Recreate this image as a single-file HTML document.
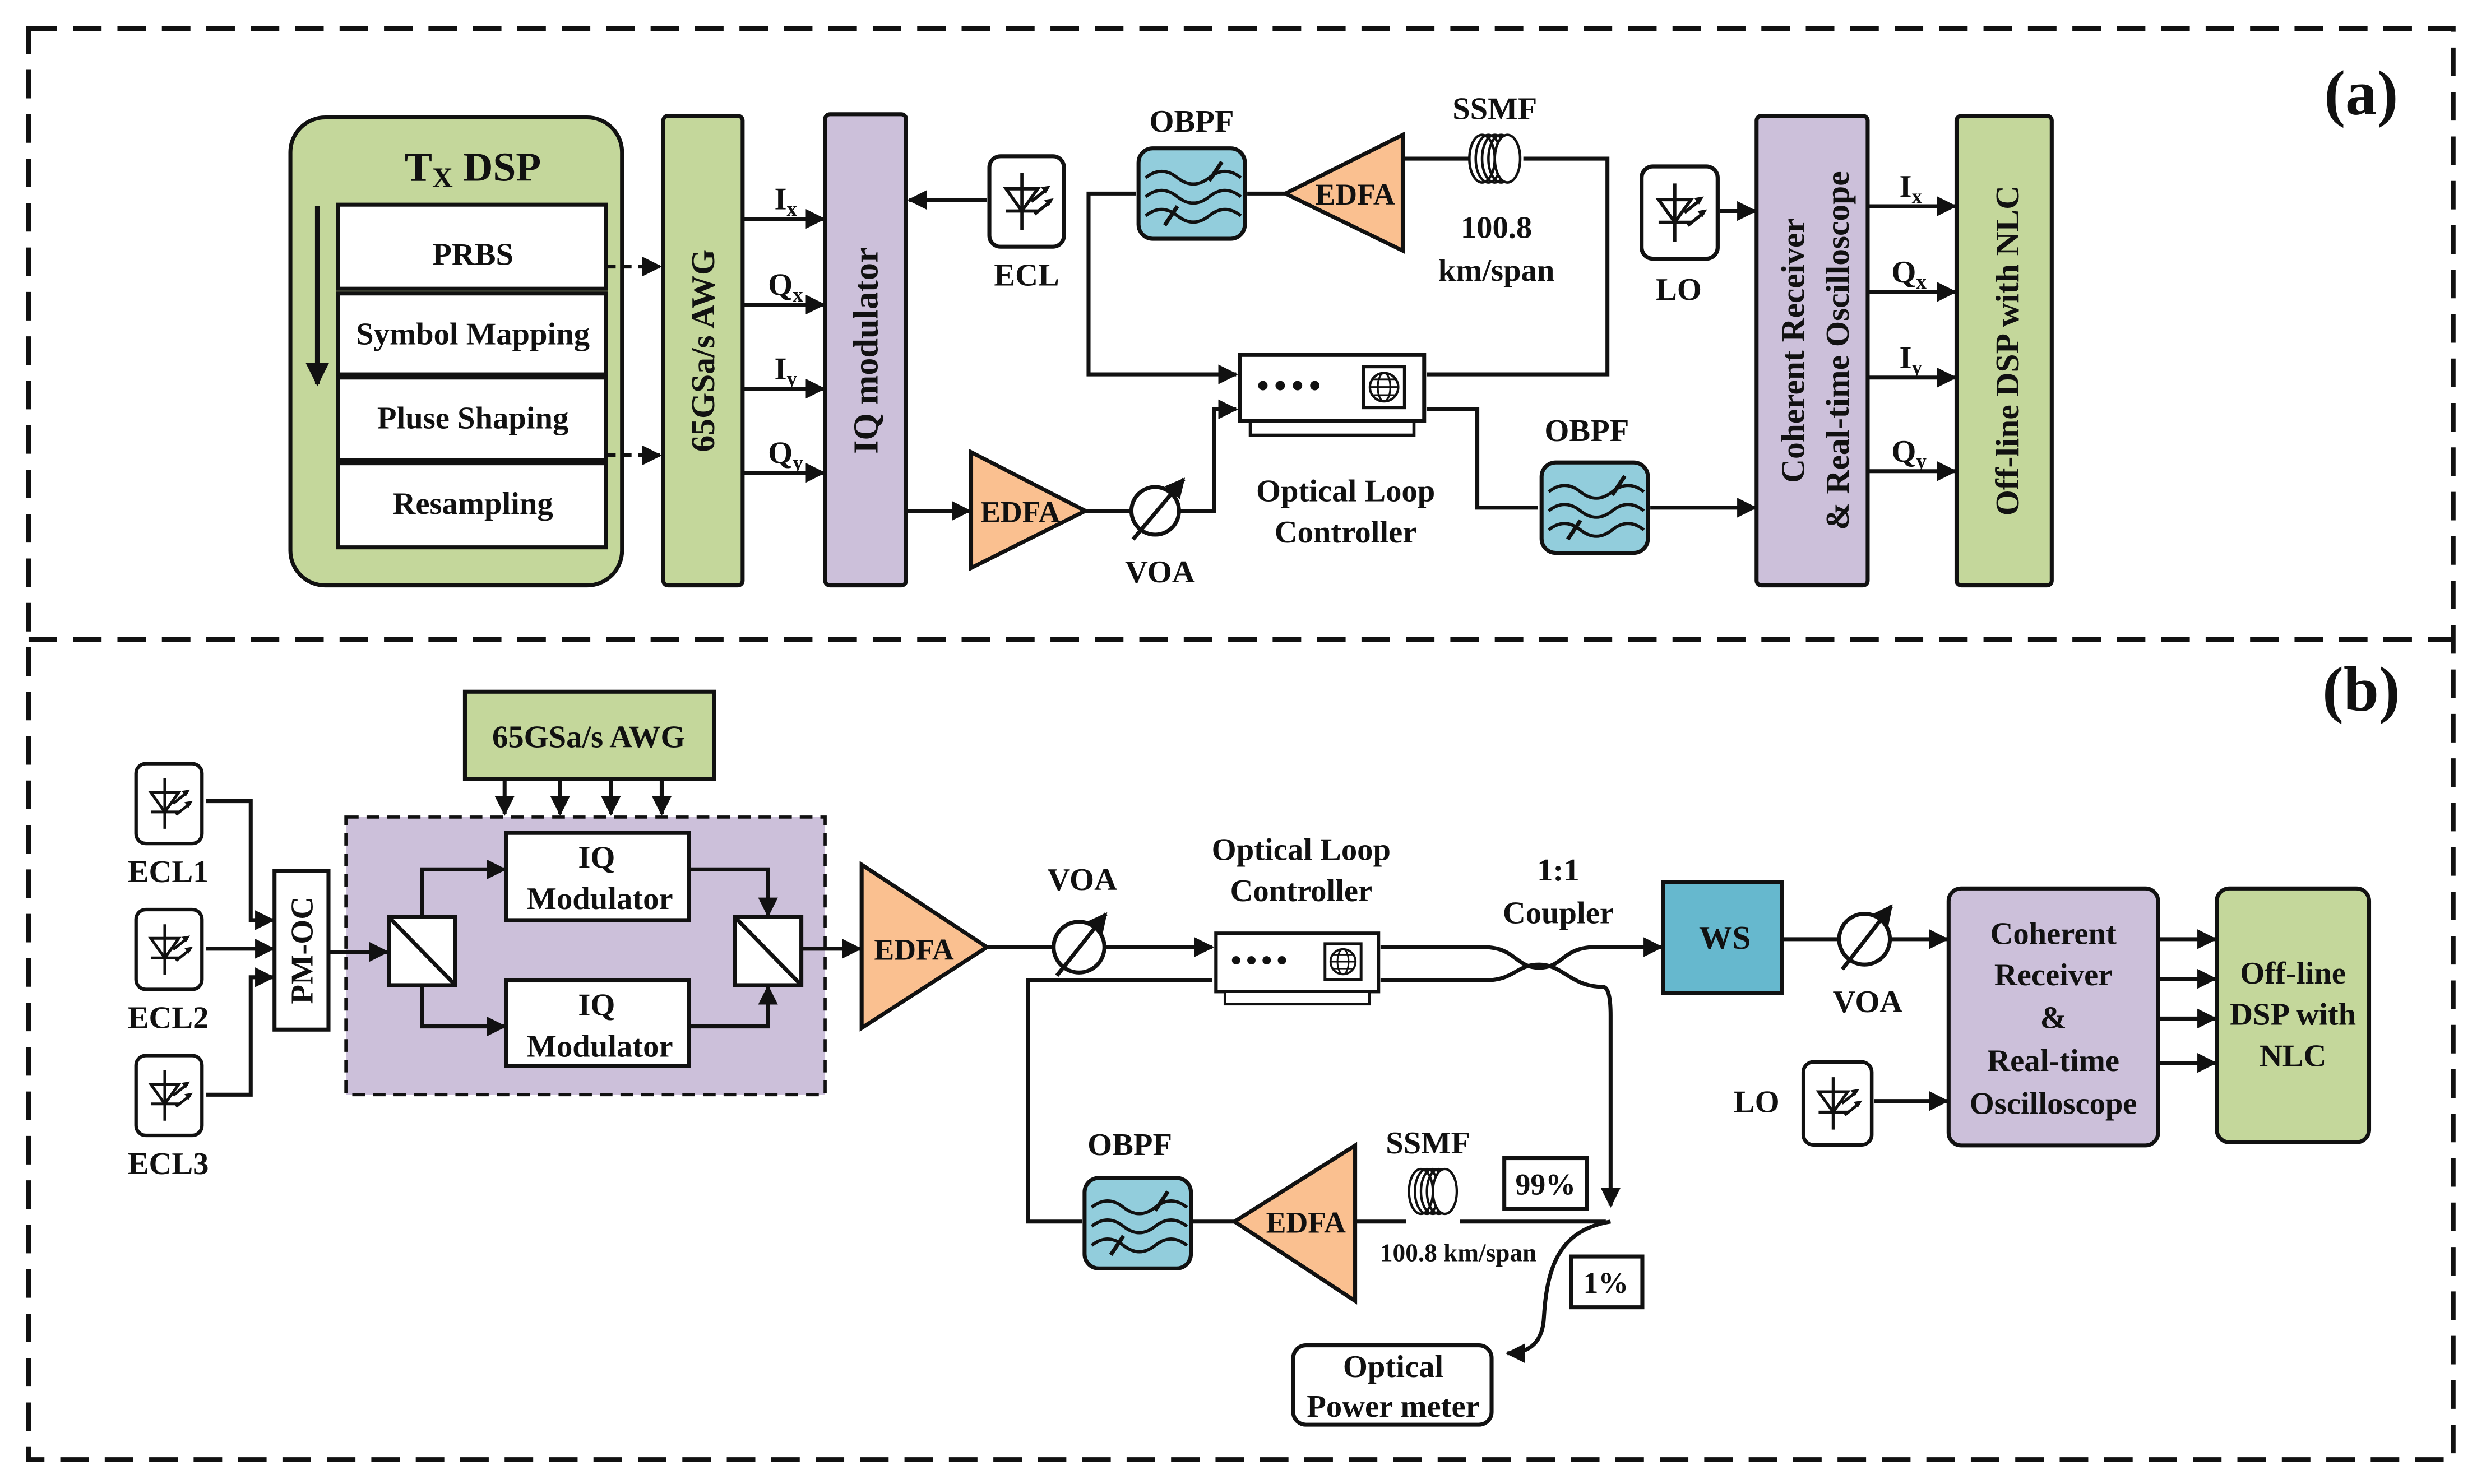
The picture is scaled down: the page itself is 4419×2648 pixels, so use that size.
<!DOCTYPE html>
<html><head><meta charset="utf-8"><style>
html,body{margin:0;padding:0;background:#fff}
svg{display:block}
text{font-family:"Liberation Serif",serif;font-weight:bold;fill:#111}
</style></head><body>
<svg width="4419" height="2648" viewBox="0 0 1561 935.4" preserveAspectRatio="none" xmlns="http://www.w3.org/2000/svg">
<defs>
<marker id="ar" viewBox="0 0 10 10" refX="9" refY="5" markerWidth="5" markerHeight="5" orient="auto"><path d="M0,0 L10,5 L0,10 z" fill="#111"/></marker>
<symbol id="laser" viewBox="0 0 50 60">
<rect x="1.5" y="1.5" width="47" height="57" rx="7" fill="#fff" stroke="#111" stroke-width="2.5"/>
<line x1="22" y1="12" x2="22" y2="48" stroke="#111" stroke-width="2"/>
<path d="M12,22 L32,22 L22,36 z" fill="none" stroke="#111" stroke-width="2"/>
<line x1="12" y1="36" x2="32" y2="36" stroke="#111" stroke-width="2"/>
<line x1="28" y1="30" x2="38" y2="22" stroke="#111" stroke-width="2"/>
<path d="M40,20 l-6,1 l3,4 z" fill="#111"/>
<line x1="30" y1="38" x2="40" y2="30" stroke="#111" stroke-width="2"/>
<path d="M42,28 l-6,1 l3,4 z" fill="#111"/>
</symbol>
<symbol id="obpf" viewBox="0 0 70 60">
<rect x="1.5" y="1.5" width="67" height="57" rx="9" fill="#92cddc" stroke="#111" stroke-width="2.5"/>
<path d="M6,20 q10,-8 20,0 t20,0 t20,0" fill="none" stroke="#111" stroke-width="2"/>
<path d="M6,32 q10,-8 20,0 t20,0 t20,0" fill="none" stroke="#111" stroke-width="2"/>
<path d="M6,44 q10,-8 20,0 t20,0 t20,0" fill="none" stroke="#111" stroke-width="2"/>
<line x1="18" y1="50" x2="26" y2="38" stroke="#111" stroke-width="2.5"/>
<line x1="46" y1="22" x2="54" y2="10" stroke="#111" stroke-width="2.5"/>
</symbol>
<symbol id="coil" viewBox="0 0 36 34">
<ellipse cx="10" cy="17" rx="8" ry="15" fill="none" stroke="#111" stroke-width="1.6"/>
<ellipse cx="14" cy="17" rx="8" ry="15" fill="none" stroke="#111" stroke-width="1.6"/>
<ellipse cx="18" cy="17" rx="8" ry="15" fill="none" stroke="#111" stroke-width="1.6"/>
<ellipse cx="22" cy="17" rx="8" ry="15" fill="none" stroke="#111" stroke-width="1.6"/>
<ellipse cx="26" cy="17" rx="8" ry="15" fill="#fff" stroke="#111" stroke-width="1.6"/>
</symbol>
<symbol id="olc" viewBox="0 0 120 55">
<rect x="1.5" y="1.5" width="117" height="42" fill="#fff" stroke="#111" stroke-width="2.5"/>
<rect x="8" y="43.5" width="104" height="9" fill="#fff" stroke="#111" stroke-width="2"/>
<circle cx="16" cy="21" r="3" fill="#111"/><circle cx="27" cy="21" r="3" fill="#111"/><circle cx="38" cy="21" r="3" fill="#111"/><circle cx="49" cy="21" r="3" fill="#111"/>
<rect x="80" y="9" width="26" height="26" fill="#fff" stroke="#111" stroke-width="2"/>
<circle cx="93" cy="22" r="9" fill="none" stroke="#111" stroke-width="1.5"/>
<ellipse cx="93" cy="22" rx="4" ry="9" fill="none" stroke="#111" stroke-width="1.2"/>
<line x1="84" y1="22" x2="102" y2="22" stroke="#111" stroke-width="1.2"/>
<line x1="85" y1="17" x2="101" y2="17" stroke="#111" stroke-width="1"/>
<line x1="85" y1="27" x2="101" y2="27" stroke="#111" stroke-width="1"/>
</symbol>
</defs>

<g fill="none" stroke="#111" stroke-width="3" stroke-dasharray="18,10">
<rect x="18" y="18" width="1528" height="902"/>
<line x1="18" y1="403" x2="1546" y2="403"/>
</g>

<text x="1488" y="72" font-size="40" text-anchor="middle">(a)</text>
<text x="1488" y="448" font-size="40" text-anchor="middle">(b)</text>

<!-- (a) -->
<g stroke="#111" stroke-width="2.5" fill="none">
<rect x="183" y="74" width="209" height="295" rx="22" fill="#c4d79b"/>
<rect x="213" y="129" width="169" height="53" fill="#fff"/>
<rect x="213" y="185" width="169" height="51" fill="#fff"/>
<rect x="213" y="238" width="169" height="52" fill="#fff"/>
<rect x="213" y="292" width="169" height="53" fill="#fff"/>
<rect x="418" y="73" width="50" height="296" rx="3" fill="#c4d79b"/>
<rect x="520" y="72" width="51" height="297" rx="3" fill="#ccc0da"/>
<rect x="1107" y="73" width="70" height="296" rx="3" fill="#ccc0da"/>
<rect x="1233" y="73" width="60" height="296" rx="3" fill="#c4d79b"/>
</g>
<line x1="200" y1="130" x2="200" y2="242" stroke="#111" stroke-width="3" marker-end="url(#ar)"/>
<text x="298" y="114" font-size="26" text-anchor="middle">T<tspan font-size="18" dy="4">X</tspan><tspan dy="-4"> DSP</tspan></text>
<g font-size="20" text-anchor="middle">
<text x="298" y="167">PRBS</text>
<text x="298" y="217">Symbol Mapping</text>
<text x="298" y="270">Pluse Shaping</text>
<text x="298" y="324">Resampling</text>
</g>
<g stroke="#111" stroke-width="2.5" fill="none">
<line x1="382" y1="168" x2="416" y2="168" stroke-dasharray="6,4" marker-end="url(#ar)"/>
<line x1="382" y1="287" x2="416" y2="287" stroke-dasharray="6,4" marker-end="url(#ar)"/>
<line x1="468" y1="138" x2="519" y2="138" marker-end="url(#ar)"/>
<line x1="468" y1="192" x2="519" y2="192" marker-end="url(#ar)"/>
<line x1="468" y1="245" x2="519" y2="245" marker-end="url(#ar)"/>
<line x1="468" y1="298" x2="519" y2="298" marker-end="url(#ar)"/>
<line x1="622" y1="126" x2="573" y2="126" marker-end="url(#ar)"/>
<line x1="810" y1="122" x2="786" y2="122"/>
<polyline points="716,122 686,122 686,236 779,236" marker-end="url(#ar)"/>
<polyline points="960,100 1013,100 1013,236 899,236"/>
<polyline points="899,258 931,258 931,320 969,320"/>
<line x1="1040" y1="320" x2="1106" y2="320" marker-end="url(#ar)"/>
<line x1="571" y1="322" x2="611" y2="322" marker-end="url(#ar)"/>
<line x1="684" y1="322" x2="713" y2="322"/>
<polyline points="743,322 765,322 765,258 779,258" marker-end="url(#ar)"/>
<line x1="1084" y1="133" x2="1106" y2="133" marker-end="url(#ar)"/>
<line x1="1177" y1="130" x2="1232" y2="130" marker-end="url(#ar)"/>
<line x1="1177" y1="184" x2="1232" y2="184" marker-end="url(#ar)"/>
<line x1="1177" y1="238" x2="1232" y2="238" marker-end="url(#ar)"/>
<line x1="1177" y1="297" x2="1232" y2="297" marker-end="url(#ar)"/>
<line x1="884" y1="100" x2="926" y2="100"/>
</g>
<g font-size="20">
<text x="488" y="132">I<tspan font-size="13" dy="4">x</tspan></text>
<text x="484" y="186">Q<tspan font-size="13" dy="4">x</tspan></text>
<text x="488" y="239">I<tspan font-size="13" dy="4">y</tspan></text>
<text x="484" y="292">Q<tspan font-size="13" dy="4">y</tspan></text>
<text x="1197" y="124">I<tspan font-size="13" dy="4">x</tspan></text>
<text x="1192" y="178">Q<tspan font-size="13" dy="4">x</tspan></text>
<text x="1197" y="232">I<tspan font-size="13" dy="4">y</tspan></text>
<text x="1192" y="291">Q<tspan font-size="13" dy="4">y</tspan></text>
</g>
<text transform="translate(450,221) rotate(-90)" font-size="21" text-anchor="middle">65GSa/s AWG</text>
<text transform="translate(553,221) rotate(-90)" font-size="22" text-anchor="middle">IQ modulator</text>
<text transform="translate(1137,221) rotate(-90)" font-size="21" text-anchor="middle">Coherent Receiver</text>
<text transform="translate(1165,221) rotate(-90)" font-size="21" text-anchor="middle">&amp; Real-time Oscilloscope</text>
<text transform="translate(1272,221) rotate(-90)" font-size="21" text-anchor="middle">Off-line DSP with NLC</text>

<use href="#laser" x="622" y="97" width="50" height="60"/>
<text x="647" y="180" font-size="20" text-anchor="middle">ECL</text>
<use href="#obpf" x="716" y="92" width="70" height="60"/>
<text x="751" y="83" font-size="20" text-anchor="middle">OBPF</text>
<polygon points="810,122 884,85 884,158" fill="#fac090" stroke="#111" stroke-width="2.5"/>
<text x="854" y="129" font-size="19" text-anchor="middle">EDFA</text>
<use href="#coil" x="924" y="83" width="36" height="34"/>
<text x="942" y="75" font-size="20" text-anchor="middle">SSMF</text>
<text x="943" y="150" font-size="20" text-anchor="middle">100.8</text>
<text x="943" y="177" font-size="20" text-anchor="middle">km/span</text>
<use href="#olc" x="780" y="222" width="119" height="55"/>
<text x="848" y="316" font-size="20" text-anchor="middle">Optical Loop</text>
<text x="848" y="342" font-size="20" text-anchor="middle">Controller</text>
<use href="#obpf" x="970" y="290" width="70" height="60"/>
<text x="1000" y="278" font-size="20" text-anchor="middle">OBPF</text>
<polygon points="684,322 612,285 612,358" fill="#fac090" stroke="#111" stroke-width="2.5"/>
<text x="643" y="329" font-size="19" text-anchor="middle">EDFA</text>
<circle cx="728" cy="322" r="15" fill="#fff" stroke="#111" stroke-width="2.5"/>
<line x1="714" y1="340" x2="746" y2="302" stroke="#111" stroke-width="2.5" marker-end="url(#ar)"/>
<text x="731" y="367" font-size="20" text-anchor="middle">VOA</text>
<use href="#laser" x="1033" y="103" width="51" height="62"/>
<text x="1058" y="189" font-size="20" text-anchor="middle">LO</text>

<!-- (b) -->
<rect x="293" y="436" width="157" height="55" fill="#c4d79b" stroke="#111" stroke-width="2.5"/>
<text x="371" y="471" font-size="20" text-anchor="middle">65GSa/s AWG</text>
<g stroke="#111" stroke-width="2.5">
<line x1="318" y1="491" x2="318" y2="513" marker-end="url(#ar)"/>
<line x1="353" y1="491" x2="353" y2="513" marker-end="url(#ar)"/>
<line x1="385" y1="491" x2="385" y2="513" marker-end="url(#ar)"/>
<line x1="417" y1="491" x2="417" y2="513" marker-end="url(#ar)"/>
</g>
<rect x="218" y="515" width="302" height="175" fill="#ccc0da" stroke="#111" stroke-width="2" stroke-dasharray="8,5"/>
<rect x="319" y="525" width="115" height="55" fill="#fff" stroke="#111" stroke-width="2.5"/>
<rect x="319" y="618" width="115" height="54" fill="#fff" stroke="#111" stroke-width="2.5"/>
<g font-size="20" text-anchor="middle">
<text x="376" y="547">IQ</text><text x="378" y="573">Modulator</text>
<text x="376" y="640">IQ</text><text x="378" y="666">Modulator</text>
</g>
<g stroke="#111" stroke-width="2.5" fill="#fff">
<rect x="245" y="578" width="42" height="43"/><line x1="245" y1="578" x2="287" y2="621"/>
<rect x="463" y="578" width="42" height="43"/><line x1="463" y1="578" x2="505" y2="621"/>
<rect x="173" y="549" width="34" height="100"/>
</g>
<text transform="translate(197,599) rotate(-90)" font-size="20" text-anchor="middle">PM-OC</text>
<use href="#laser" x="83" y="480" width="47" height="53"/>
<use href="#laser" x="83" y="572" width="47" height="53"/>
<use href="#laser" x="83" y="664" width="47" height="53"/>
<g font-size="20" text-anchor="middle">
<text x="106" y="556">ECL1</text><text x="106" y="648">ECL2</text><text x="106" y="740">ECL3</text>
</g>
<g stroke="#111" stroke-width="2.5" fill="none">
<polyline points="130,505 158,505 158,580 172,580" marker-end="url(#ar)"/>
<line x1="130" y1="598" x2="172" y2="598" marker-end="url(#ar)"/>
<polyline points="130,690 158,690 158,616 172,616" marker-end="url(#ar)"/>
<line x1="207" y1="600" x2="244" y2="600" marker-end="url(#ar)"/>
<polyline points="266,578 266,548 318,548" marker-end="url(#ar)"/>
<polyline points="266,621 266,647 318,647" marker-end="url(#ar)"/>
<polyline points="434,548 484,548 484,577" marker-end="url(#ar)"/>
<polyline points="434,647 484,647 484,622" marker-end="url(#ar)"/>
<line x1="505" y1="598" x2="542" y2="598" marker-end="url(#ar)"/>
<line x1="622" y1="597" x2="664" y2="597"/>
<line x1="696" y1="597" x2="764" y2="597" marker-end="url(#ar)"/>
<polyline points="764,618 648,618 648,770 682,770"/>
<line x1="752" y1="770" x2="778" y2="770"/>
<line x1="854" y1="770" x2="886" y2="770"/>
<line x1="920" y1="770" x2="1012" y2="770"/>
<path d="M870,597 L935,597 C955,597 955,610 970,610 C985,610 985,597 1005,597 L1047,597" marker-end="url(#ar)"/>
<path d="M870,618 L935,618 C955,618 955,608 970,608 C985,608 990,622 1010,622 Q1015,622 1015,640 L1015,760" marker-end="url(#ar)"/>
<path d="M1015,770 C985,775 975,795 973,830 Q972,853 950,853" marker-end="url(#ar)"/>
<line x1="1123" y1="592" x2="1159" y2="592"/>
<line x1="1191" y1="592" x2="1227" y2="592" marker-end="url(#ar)"/>
<line x1="1181" y1="694" x2="1227" y2="694" marker-end="url(#ar)"/>
<line x1="1360" y1="592" x2="1396" y2="592" marker-end="url(#ar)"/>
<line x1="1360" y1="617" x2="1396" y2="617" marker-end="url(#ar)"/>
<line x1="1360" y1="642" x2="1396" y2="642" marker-end="url(#ar)"/>
<line x1="1360" y1="670" x2="1396" y2="670" marker-end="url(#ar)"/>
</g>
<polygon points="622,597 543,545 543,648" fill="#fac090" stroke="#111" stroke-width="2.5"/>
<text x="576" y="605" font-size="19" text-anchor="middle">EDFA</text>
<circle cx="680" cy="597" r="16" fill="#fff" stroke="#111" stroke-width="2.5"/>
<line x1="666" y1="615" x2="697" y2="576" stroke="#111" stroke-width="2.5" marker-end="url(#ar)"/>
<text x="682" y="561" font-size="20" text-anchor="middle">VOA</text>
<use href="#olc" x="765" y="586" width="105" height="50"/>
<text x="820" y="542" font-size="20" text-anchor="middle">Optical Loop</text>
<text x="820" y="568" font-size="20" text-anchor="middle">Controller</text>
<text x="982" y="555" font-size="20" text-anchor="middle">1:1</text>
<text x="982" y="582" font-size="20" text-anchor="middle">Coupler</text>
<use href="#obpf" x="682" y="741" width="70" height="60"/>
<text x="712" y="728" font-size="20" text-anchor="middle">OBPF</text>
<polygon points="778,770 854,722 854,820" fill="#fac090" stroke="#111" stroke-width="2.5"/>
<text x="823" y="777" font-size="19" text-anchor="middle">EDFA</text>
<use href="#coil" x="885" y="735" width="36" height="32"/>
<text x="900" y="727" font-size="20" text-anchor="middle">SSMF</text>
<text x="919" y="795" font-size="16" text-anchor="middle">100.8 km/span</text>
<rect x="948" y="730" width="52" height="32" fill="#fff" stroke="#111" stroke-width="2.5"/>
<text x="974" y="753" font-size="19" text-anchor="middle">99%</text>
<rect x="990" y="792" width="45" height="32" fill="#fff" stroke="#111" stroke-width="2.5"/>
<text x="1012" y="815" font-size="19" text-anchor="middle">1%</text>
<rect x="815" y="848" width="125" height="50" rx="8" fill="#fff" stroke="#111" stroke-width="2.5"/>
<text x="878" y="868" font-size="20" text-anchor="middle">Optical</text>
<text x="878" y="893" font-size="20" text-anchor="middle">Power meter</text>
<rect x="1048" y="556" width="75" height="70" fill="#4bacc6" fill-opacity="0.85" stroke="#111" stroke-width="2.5"/>
<text x="1087" y="598" font-size="21" text-anchor="middle">WS</text>
<circle cx="1175" cy="592" r="16" fill="#fff" stroke="#111" stroke-width="2.5"/>
<line x1="1161" y1="611" x2="1192" y2="571" stroke="#111" stroke-width="2.5" marker-end="url(#ar)"/>
<text x="1177" y="638" font-size="20" text-anchor="middle">VOA</text>
<rect x="1228" y="560" width="132" height="162" rx="8" fill="#ccc0da" stroke="#111" stroke-width="2.5"/>
<g font-size="20" text-anchor="middle">
<text x="1294" y="595">Coherent</text><text x="1294" y="621">Receiver</text><text x="1294" y="648">&amp;</text><text x="1294" y="675">Real-time</text><text x="1294" y="702">Oscilloscope</text>
</g>
<text x="1107" y="701" font-size="20" text-anchor="middle">LO</text>
<use href="#laser" x="1135" y="668" width="46" height="55"/>
<rect x="1397" y="560" width="96" height="160" rx="8" fill="#c4d79b" stroke="#111" stroke-width="2.5"/>
<g font-size="20" text-anchor="middle">
<text x="1445" y="620">Off-line</text><text x="1445" y="646">DSP with</text><text x="1445" y="672">NLC</text>
</g>
</svg>
</body></html>
